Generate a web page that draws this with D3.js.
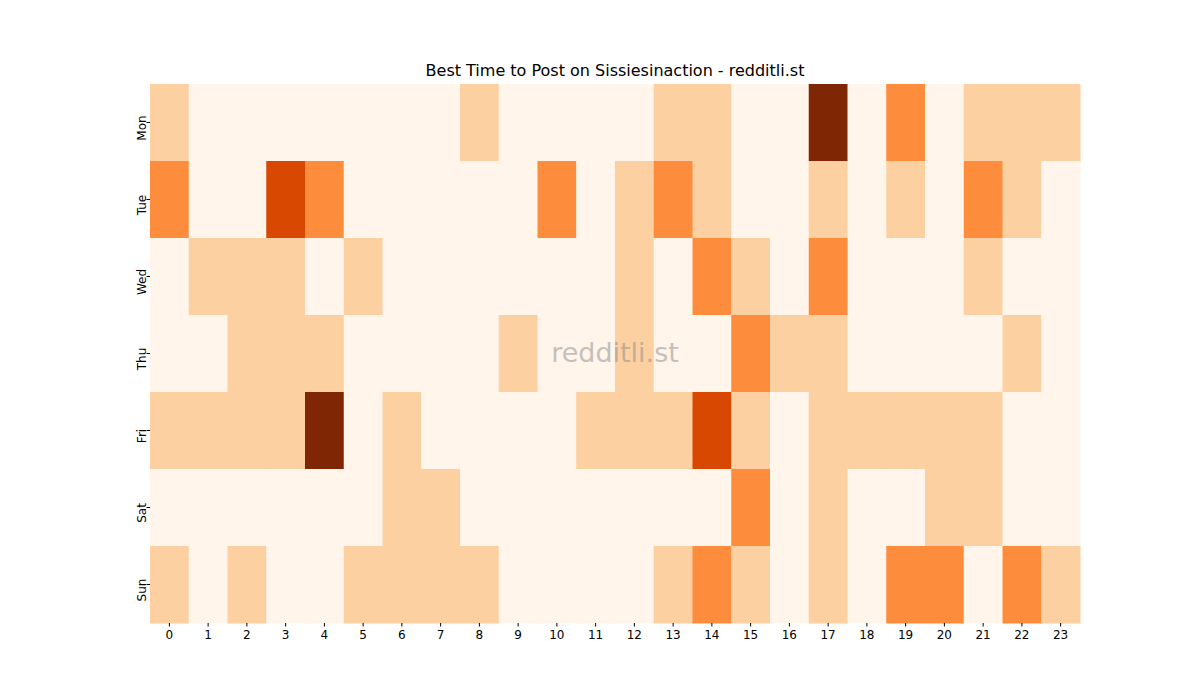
<!DOCTYPE html>
<html><head><meta charset="utf-8">
<script src="https://cdn.jsdelivr.net/npm/d3@7"></script>
<style>body{margin:0;background:#fff;font-family:"DejaVu Sans",sans-serif}</style>
</head><body><svg id="c" width="1200" height="700"></svg>
<script>
// posting activity levels, rows = weekday, cols = hour
const days = ['Mon', 'Tue', 'Wed', 'Thu', 'Fri', 'Sat', 'Sun'];
const hours = d3.range(24);
const mon = [1,0,0,0,0,0,0,0,1,0,0,0,0,1,1,0,0,4,0,2,0,1,1,1];
const tue = [2,0,0,3,2,0,0,0,0,0,2,0,1,2,1,0,0,1,0,1,0,2,1,0];
const wed = [0,1,1,1,0,1,0,0,0,0,0,0,1,0,2,1,0,2,0,0,0,1,0,0];
const thu = [0,0,1,1,1,0,0,0,0,1,0,0,1,0,0,2,1,1,0,0,0,0,1,0];
const fri = [1,1,1,1,4,0,1,0,0,0,0,1,1,1,3,1,0,1,1,1,1,1,0,0];
const sat = [0,0,0,0,0,0,1,1,0,0,0,0,0,0,0,2,0,1,0,0,1,1,0,0];
const sun = [1,0,1,0,0,1,1,1,1,0,0,0,0,1,2,1,0,1,0,2,2,0,2,1];
const rows = [mon, tue, wed, thu, fri, sat, sun];
const palette = ['#fff5eb', '#fdd0a2', '#fd8d3c', '#d94801', '#7f2704'];

const svg = d3.select('#c');
const x = d3.scaleBand().domain(hours).range([150, 1080]);
const y = d3.scaleBand().domain(days).range([84, 623]);

const cells = [];
rows.forEach((r, i) => r.forEach((v, h) => cells.push({day: days[i], hour: h, v})));
svg.append('g').selectAll('rect').data(cells).join('rect')
  .attr('x', d => x(d.hour)).attr('y', d => y(d.day))
  .attr('width', x.bandwidth() + 0.5).attr('height', y.bandwidth() + 0.5)
  .attr('fill', d => palette[d.v]);

const xa = svg.append('g').attr('transform', 'translate(0,623)')
  .call(d3.axisBottom(x).tickSize(3.5).tickPadding(4));
const ya = svg.append('g').attr('transform', 'translate(150,0)')
  .call(d3.axisLeft(y).tickSize(3.5).tickPadding(4));
[xa, ya].forEach(a => {
  a.select('.domain').remove();
  a.selectAll('text').attr('font-size', 12).attr('font-family', 'DejaVu Sans').attr('fill', '#000');
  a.selectAll('line').attr('stroke', '#000');
});
ya.selectAll('text').attr('transform', function () {
  return 'rotate(-90,' + d3.select(this).attr('x') + ',0)';
}).attr('text-anchor', 'middle').attr('dy', '0.32em').attr('x', -13);

svg.append('text').attr('x', 615).attr('y', 76).attr('text-anchor', 'middle')
  .attr('font-size', 16).text('Best Time to Post on Sissiesinaction - redditli.st');
svg.append('text').attr('x', 615).attr('y', 362).attr('text-anchor', 'middle')
  .attr('font-size', 27).attr('fill', '#8c8c8c').attr('opacity', 0.5).text('redditli.st');
</script></body></html>
